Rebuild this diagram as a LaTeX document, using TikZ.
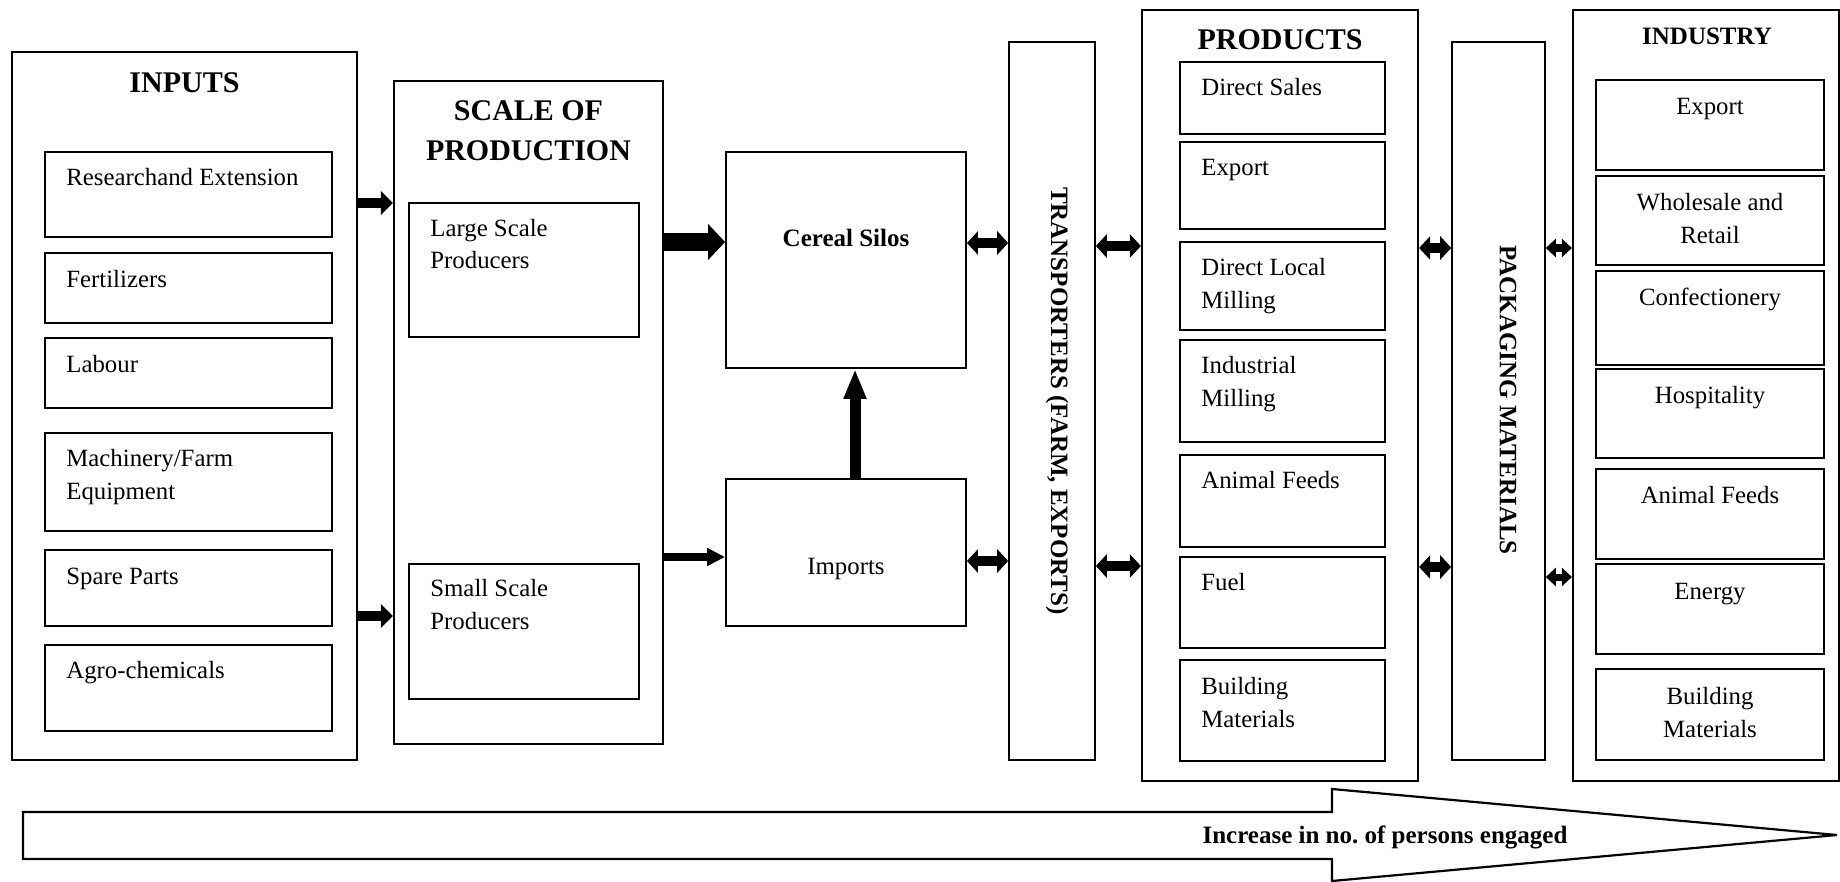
\documentclass[tikz,border=0pt]{standalone}
\usepackage{fontspec}
\setmainfont{Liberation Serif}
\usetikzlibrary{arrows.meta,fit}
\begin{document}
\frenchspacing
\begin{tikzpicture}[x=0.5pt,y=-0.5pt,
  outer/.style={draw,line width=1.1pt,inner sep=0pt},
  inbox/.style={draw,line width=0.9pt,inner sep=0pt},
  pbox/.style={draw,line width=1.2pt,inner sep=0pt},
  strip/.style={draw,line width=0.8pt,inner sep=0pt},
  lbl/.style={anchor=base west,inner sep=0pt,align=left,font=\fontsize{12.4}{16.5}\selectfont},
  clbl/.style={anchor=base,inner sep=0pt,align=center,font=\fontsize{12.4}{16.5}\selectfont},
  ttl/.style={anchor=base,inner sep=0pt,align=center,font=\bfseries\fontsize{15}{20}\selectfont},
  rot/.style={inner sep=0pt,font=\bfseries\fontsize{12.5}{15}\selectfont},
  sarrow/.style={line width=5pt,-{Triangle[length=6pt,width=11.5pt]}},
  darrow/.style={line width=5pt,{Triangle[length=5.5pt,width=11.5pt]}-{Triangle[length=5.5pt,width=11.5pt]}},
]
\useasboundingbox (0,0) rectangle (1840,882);

% ---------- INPUTS ----------
\node[outer,fit={(12,52)(357,760)}] (inputs) {};
\node[ttl] (tinputs) at (184.5,93) {INPUTS};
\node[inbox,fit={(45,152)(332,237)}] (research) {};
\node[lbl] (tresearch) at (66,186) {Researchand Extension};
\node[inbox,fit={(45,253)(332,323)}] (fert) {};
\node[lbl] (tfert) at (66,287) {Fertilizers};
\node[inbox,fit={(45,338)(332,408)}] (labour) {};
\node[lbl] (tlabour) at (66,372) {Labour};
\node[inbox,fit={(45,433)(332,531)}] (mach) {};
\node[lbl] (tmach) at (66,499) {Machinery/Farm\\Equipment};
\node[inbox,fit={(45,550)(332,626)}] (spare) {};
\node[lbl] (tspare) at (66,584) {Spare Parts};
\node[inbox,fit={(45,645)(332,731)}] (agro) {};
\node[lbl] (tagro) at (66,678) {Agro-chemicals};

% ---------- SCALE OF PRODUCTION ----------
\node[outer,fit={(394,81)(663,744)}] (scale) {};
\node[ttl] (tscale) at (528.5,161) {SCALE OF\\PRODUCTION};
\node[inbox,fit={(409,203)(639,337)}] (large) {};
\node[lbl] (tlarge) at (430,269) {Large Scale\\Producers};
\node[inbox,fit={(409,564)(639,699)}] (small) {};
\node[lbl] (tsmall) at (430,629) {Small Scale\\Producers};

% ---------- SILOS / IMPORTS ----------
\node[inbox,fit={(726,152)(966,368)}] (silos) {};
\node[anchor=base,inner sep=0pt,font=\bfseries\fontsize{12.5}{15}\selectfont] (tsilos) at (846,247) {Cereal Silos};
\node[inbox,fit={(726,479)(966,626)}] (imports) {};
\node[clbl] (timports) at (846,574) {Imports};

% ---------- TRANSPORTERS ----------
\node[strip,fit={(1009,42)(1095,760)}] (trans) {};
\node[rot,rotate=-90] (ttrans) at (1057,401) {TRANSPORTERS (FARM, EXPORTS)};

% ---------- PRODUCTS ----------
\node[outer,fit={(1142,10)(1418,781)}] (products) {};
\node[ttl] (tproducts) at (1280,50) {PRODUCTS};
\node[pbox,fit={(1180,62)(1385,134)}] (pds) {};
\node[lbl] (tpds) at (1201,96) {Direct Sales};
\node[pbox,fit={(1180,142)(1385,229)}] (pexp) {};
\node[lbl] (tpexp) at (1201,176) {Export};
\node[pbox,fit={(1180,242)(1385,330)}] (pdlm) {};
\node[lbl] (tpdlm) at (1201,308) {Direct Local\\Milling};
\node[pbox,fit={(1180,340)(1385,442)}] (pim) {};
\node[lbl] (tpim) at (1201,406) {Industrial\\Milling};
\node[pbox,fit={(1180,455)(1385,547)}] (paf) {};
\node[lbl] (tpaf) at (1201,488) {Animal Feeds};
\node[pbox,fit={(1180,557)(1385,648)}] (pfuel) {};
\node[lbl] (tpfuel) at (1201,590) {Fuel};
\node[pbox,fit={(1180,660)(1385,761)}] (pbm) {};
\node[lbl] (tpbm) at (1201,727) {Building\\Materials};

% ---------- PACKAGING ----------
\node[strip,fit={(1452,42)(1545,760)}] (pack) {};
\node[rot,rotate=-90] (tpack) at (1508,400) {PACKAGING MATERIALS};

% ---------- INDUSTRY ----------
\node[outer,fit={(1573,10)(1839,781)}] (industry) {};
\node[anchor=base,inner sep=0pt,font=\bfseries\fontsize{12.5}{15}\selectfont] (tindustry) at (1707,45) {INDUSTRY};
\node[inbox,fit={(1596,80)(1824,170)}] (iexp) {};
\node[clbl] (tiexp) at (1710,115) {Export};
\node[inbox,fit={(1596,176)(1824,265)}] (iwr) {};
\node[clbl] (tiwr) at (1710,243) {Wholesale and\\Retail};
\node[inbox,fit={(1596,271)(1824,365)}] (iconf) {};
\node[clbl] (ticonf) at (1710,305) {Confectionery};
\node[inbox,fit={(1596,369)(1824,458)}] (ihosp) {};
\node[clbl] (tihosp) at (1710,403) {Hospitality};
\node[inbox,fit={(1596,469)(1824,559)}] (iaf) {};
\node[clbl] (tiaf) at (1710,503) {Animal Feeds};
\node[inbox,fit={(1596,564)(1824,654)}] (ien) {};
\node[clbl] (tien) at (1710,599) {Energy};
\node[inbox,fit={(1596,669)(1824,760)}] (ibm) {};
\node[clbl] (tibm) at (1710,737) {Building\\Materials};

% ---------- ARROWS ----------
\draw[sarrow] (inputs.east |- 0,203) -- (scale.west |- 0,203);
\draw[sarrow] (inputs.east |- 0,616) -- (scale.west |- 0,616);
\draw[line width=8.5pt,-{Triangle[length=8.5pt,width=17.5pt]}] (scale.east |- 0,242) -- (silos.west |- 0,242);
\draw[line width=4pt,-{Triangle[length=9pt,width=8.5pt]}] (scale.east |- 0,557) -- (imports.west |- 0,557);
\draw[line width=5.5pt,-{Triangle[length=15pt,width=10.5pt]}] (imports.north -| 855,0) -- (silos.south -| 855,0);

\draw[darrow] (silos.east |- 0,243) -- (trans.west |- 0,243);
\draw[darrow] (imports.east |- 0,561) -- (trans.west |- 0,561);
\draw[darrow] (trans.east |- 0,246) -- (products.west |- 0,246);
\draw[darrow] (trans.east |- 0,566) -- (products.west |- 0,566);
\draw[darrow] (products.east |- 0,248) -- (pack.west |- 0,248);
\draw[darrow] (products.east |- 0,567) -- (pack.west |- 0,567);
\draw[line width=3.5pt,{Triangle[length=5pt,width=9pt]}-{Triangle[length=5pt,width=9pt]}] (pack.east |- 0,248) -- (industry.west |- 0,248);
\draw[line width=3.5pt,{Triangle[length=5pt,width=9pt]}-{Triangle[length=5pt,width=9pt]}] (pack.east |- 0,577) -- (industry.west |- 0,577);

% ---------- BOTTOM ARROW ----------
\draw[line width=1.1pt,line join=miter] (23,812) -- (1332,812) -- (1332,789) -- (1837,835) -- (1332,881) -- (1332,859) -- (23,859) -- cycle;
\node[anchor=base,inner sep=0pt,font=\bfseries\fontsize{12.5}{15}\selectfont] (increase) at (1385,843) {Increase in no. of persons engaged};
\end{tikzpicture}
\end{document}
